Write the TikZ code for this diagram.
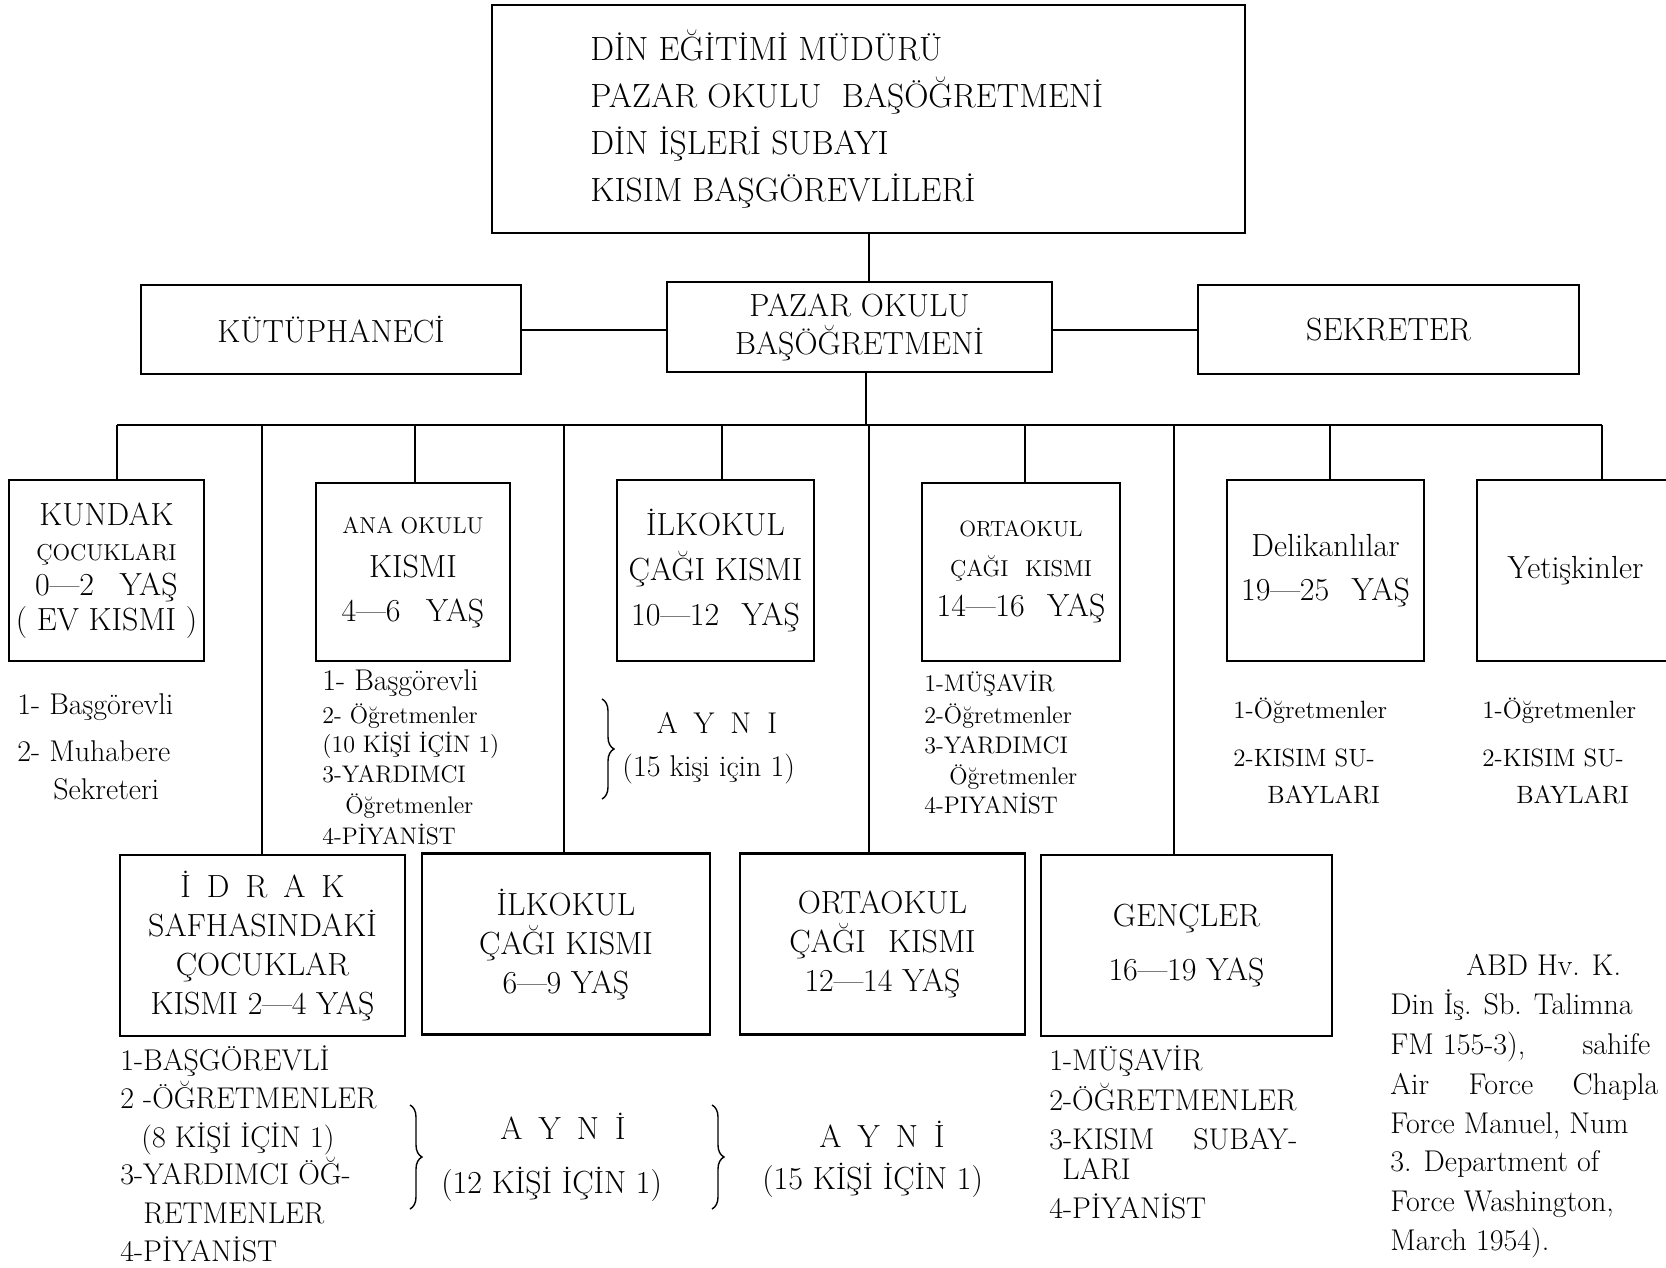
\documentclass[tikz,border=0pt]{standalone}
\usepackage{fontspec}
\usetikzlibrary{decorations.pathreplacing}
\newcommand\fsz[2]{\fontsize{#1}{#2}\selectfont}
\newcommand\spc[1]{\fontsize{#1}{\the\baselineskip}\selectfont\addfontfeature{LetterSpace=9}}
\newcommand\gap{\hspace{8pt}}
\begin{document}
\begin{tikzpicture}[x=0.5pt,y=-0.5pt,
  box/.style={draw, line width=1.1pt, inner sep=0pt, align=center},
  ln/.style={line width=1pt},
  bus/.style={line width=1.4pt},
  lst/.style={anchor=base west, inner sep=0pt},
  ctr/.style={anchor=base, inner sep=0pt},
  brc/.style={decorate, decoration={brace, amplitude=6pt}, line width=0.7pt}]
\fill[white] (0,0) rectangle (1666,1268);
\useasboundingbox (0,0) rectangle (1666,1268);

% top box
\node[box, minimum width=376.5pt, minimum height=114pt] (top) at (868.5,119) {};
\node[anchor=west, inner sep=0pt, align=left, font=\fsz{16.8}{23.5}] (toptxt) at (590,119)
  {DİN EĞİTİMİ MÜDÜRÜ\\PAZAR OKULU\hspace{0.3em} BAŞÖĞRETMENİ\\DİN İŞLERİ SUBAYI\\KISIM BAŞGÖREVLİLERİ};

% second row
\node[box, minimum width=190pt, minimum height=44.5pt, font=\fsz{16}{19}] (kut) at (331,329.5) {KÜTÜPHANECİ};
\node[box, minimum width=192.5pt, minimum height=45pt, font=\fsz{16}{19}] (pz) at (859.5,327) {PAZAR OKULU\\BAŞÖĞRETMENİ};
\node[box, minimum width=190.5pt, minimum height=44.5pt, font=\fsz{16}{19}] (sek) at (1388.5,329.5) {SEKRETER};

\draw[ln] (top.south) -- (top.south |- pz.north);
\draw[ln] (kut.east) -- (kut.east -| pz.west);
\draw[ln] (sek.west -| pz.east) -- (sek.west);

% bus
\coordinate (pzb) at (866,425);
\coordinate (d1) at (117,425);
\coordinate (d2) at (415,425);
\coordinate (d3) at (722,425);
\coordinate (d4) at (1025,425);
\coordinate (d5) at (1330,425);
\coordinate (d6) at (1602,425);
\coordinate (e1) at (262,425);
\coordinate (e2) at (564,425);
\coordinate (e3) at (869,425);
\coordinate (e4) at (1174,425);
\draw[ln] (pz.south -| pzb) -- (pzb);
\draw[bus] (d1) -- (d6);

% third row boxes
\node[box, minimum width=97.5pt, minimum height=90.5pt, font=\fsz{16}{17.5}] (k1) at (106.5,570.5)
  {KUNDAK\\{\spc{11.5}ÇOCUKLARI}\\0—2\hspace{0.8em}YAŞ\\( EV KISMI )};
\node[box, minimum width=97pt, minimum height=89pt, font=\fsz{16}{22}] (k2) at (413,572)
  {{\spc{11.5}ANA OKULU}\\KISMI\\4—6\hspace{0.8em}YAŞ};
\node[box, minimum width=98.5pt, minimum height=90.5pt, font=\fsz{16}{22.5}] (k3) at (715.5,570.5)
  {İLKOKUL\\ÇAĞI KISMI\\10—12\hspace{0.7em}YAŞ};
\node[box, minimum width=99pt, minimum height=89pt, font=\fsz{16}{20}] (k4) at (1021,572)
  {{\spc{11}ORTAOKUL}\\{\spc{11.5}ÇAĞI\hspace{0.4em} KISMI}\\14—16\hspace{0.7em}YAŞ};
\node[box, minimum width=98.5pt, minimum height=90.5pt, font=\fsz{16}{22}] (k5) at (1325.5,570.5)
  {Delikanlılar\\19—25\hspace{0.7em}YAŞ};
\node[box, minimum width=98.5pt, minimum height=90.5pt, font=\fsz{16}{22}] (k6) at (1575.5,570.5)
  {Yetişkinler};

\draw[ln] (d1) -- (d1 |- k1.north);
\draw[ln] (d2) -- (d2 |- k2.north);
\draw[ln] (d3) -- (d3 |- k3.north);
\draw[ln] (d4) -- (d4 |- k4.north);
\draw[ln] (d5) -- (d5 |- k5.north);
\draw[ln] (d6) -- (d6 |- k6.north);

% bottom row boxes
\node[box, minimum width=142.5pt, minimum height=90.5pt, font=\fsz{16}{19.5}] (b1) at (262.5,945.5)
  {İ\gap D\gap R\gap A\gap K\\SAFHASINDAKİ\\ÇOCUKLAR\\KISMI 2—4 YAŞ};
\node[box, minimum width=144pt, minimum height=90.5pt, font=\fsz{16}{19.5}] (b2) at (566,944)
  {İLKOKUL\\ÇAĞI KISMI\\6—9 YAŞ};
\node[box, minimum width=142.5pt, minimum height=90.5pt, font=\fsz{16}{19.5}] (b3) at (882.5,944)
  {ORTAOKUL\\ÇAĞI\hspace{0.4em} KISMI\\12—14 YAŞ};
\node[box, minimum width=145.5pt, minimum height=90.5pt, font=\fsz{16}{27}] (b4) at (1186.5,945.5)
  {GENÇLER\\16—19 YAŞ};

\draw[ln] (e1) -- (e1 |- b1.north);
\draw[ln] (e2) -- (e2 |- b2.north);
\draw[ln] (e3) -- (e3 |- b3.north);
\draw[ln] (e4) -- (e4 |- b4.north);

% lists under third row
\foreach \xx/\yy/\tx [count=\m] in {17/714/{1- Başgörevli},17/761/{2- Muhabere},53/799/{Sekreteri}}
  \node[lst, font=\fsz{15}{18}] (ka\m) at (\xx,\yy) {\tx};

\node[lst, font=\fsz{15}{18}] (an1) at (322,690) {1- Başgörevli};
\foreach \xx/\yy/\tx [count=\m from 2] in {322/723/{2- Öğretmenler},322/752/{(10 KİŞİ İÇİN 1)},322/782/{3-YARDIMCI},345/813/{Öğretmenler},322/844/{4-PİYANİST}}
  \node[lst, font=\spc{12}] (an\m) at (\xx,\yy) {\tx};

\draw[brc] (602,699) -- (602,799);
\node[ctr, font=\fsz{15}{18}] (ay1) at (717,733) {A\gap Y\gap N\gap I};
\node[lst, font=\fsz{15}{18}] (ay1b) at (622,776) {(15 kişi için 1)};

\foreach \xx/\yy/\tx [count=\m] in {924/691/{1-MÜŞAVİR},924/723/{2-Öğretmenler},924/753/{3-YARDIMCI},949/784/{Öğretmenler},924/813/{4-PIYANİST}}
  \node[lst, font=\spc{12}] (or\m) at (\xx,\yy) {\tx};

\foreach \xx/\yy/\tx [count=\m] in {1233/718/{1-Öğretmenler},1233/766/{2-KISIM SU-},1267/803/{BAYLARI}}
  \node[lst, font=\spc{12.5}] (de\m) at (\xx,\yy) {\tx};

\foreach \xx/\yy/\tx [count=\m] in {1482/718/{1-Öğretmenler},1482/766/{2-KISIM SU-},1516/803/{BAYLARI}}
  \node[lst, font=\spc{12.5}] (ye\m) at (\xx,\yy) {\tx};

% lists under bottom row
\foreach \xx/\yy/\tx [count=\m] in {120/1070/{1-BAŞGÖREVLİ},120/1108/{2 -ÖĞRETMENLER},141/1147/{(8 KİŞİ İÇİN 1)},120/1184/{3-YARDIMCI ÖĞ-},143/1223/{RETMENLER},120/1261/{4-PİYANİST}}
  \node[lst, font=\fsz{15}{18}] (id\m) at (\xx,\yy) {\tx};

\draw[brc] (410,1105) -- (410,1209);
\node[ctr, font=\fsz{16}{18}] (ay2) at (563,1139) {A\gap Y\gap N\gap İ};
\node[lst, font=\fsz{16}{18}] (ay2b) at (441,1193) {(12 KİŞİ İÇİN 1)};
\draw[brc] (712,1105) -- (712,1209);
\node[ctr, font=\fsz{16}{18}] (ay3) at (882,1147) {A\gap Y\gap N\gap İ};
\node[lst, font=\fsz{16}{18}] (ay3b) at (762,1189) {(15 KİŞİ İÇİN 1)};

\foreach \xx/\yy/\tx [count=\m] in {1049/1070/{1-MÜŞAVİR},1049/1110/{2-ÖĞRETMENLER},1049/1149/{3-KISIM\hspace{1em} SUBAY-},1062/1179/{LARI},1049/1218/{4-PİYANİST}}
  \node[lst, font=\fsz{15}{18}] (ge\m) at (\xx,\yy) {\tx};

% footnote
\node[lst, font=\fsz{15}{18}] (fn1) at (1466,975) {ABD Hv. K.};
\node[lst, font=\fsz{15}{18}] (fn2) at (1390,1014) {Din İş. Sb. Talimna};
\node[lst, font=\fsz{15}{18}] (fn3) at (1390,1054) {\makebox[130pt][l]{FM 155-3),\hfill sahife}};
\node[lst, font=\fsz{15}{18}] (fn4) at (1390,1094) {\makebox[134pt][s]{Air Force Chapla}};
\node[lst, font=\fsz{15}{18}] (fn5) at (1390,1133) {Force Manuel, Num};
\node[lst, font=\fsz{15}{18}] (fn6) at (1390,1171) {3. Department of};
\node[lst, font=\fsz{15}{18}] (fn7) at (1390,1211) {Force Washington,};
\node[lst, font=\fsz{15}{18}] (fn8) at (1390,1250) {March 1954).};
\end{tikzpicture}
\end{document}
